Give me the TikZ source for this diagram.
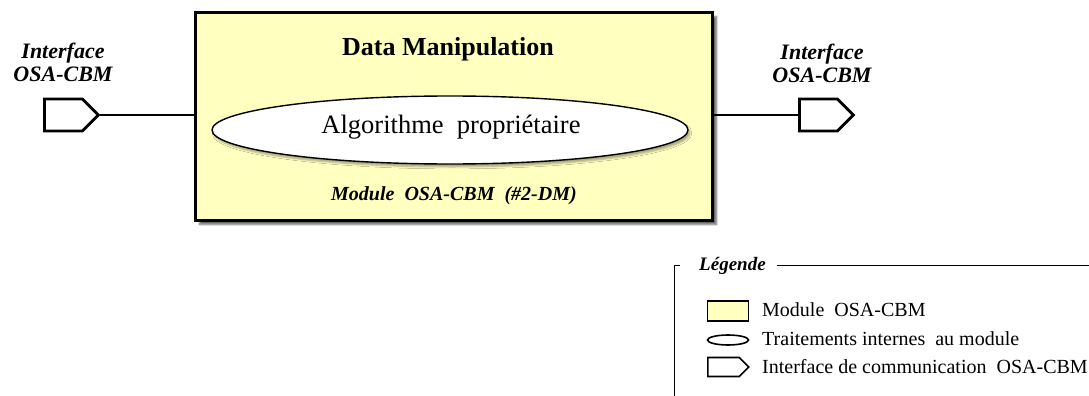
\documentclass[tikz,border=0pt]{standalone}
\usepackage{fontspec}
\setmainfont{Liberation Serif}
\usetikzlibrary{shapes.geometric,shapes.symbols,shadows.blur}
\definecolor{modfill}{RGB}{255,255,192}
\begin{document}
\begin{tikzpicture}[x=1pt,y=-1pt,
  lbl/.style={font=\fontsize{22}{23}\selectfont\bfseries\itshape, align=center, inner sep=0pt},
  iface/.style={signal, signal to=east, signal pointer angle=90, draw, line width=2.8pt, fill=white,
     minimum width=54pt, minimum height=32pt, inner sep=0pt, anchor=west},
  ifacesmall/.style={signal, signal to=east, signal pointer angle=90, draw, line width=1.6pt, fill=white,
     minimum width=41pt, minimum height=19pt, inner sep=0pt, anchor=west},
  module/.style={draw, line width=2.8pt, fill=modfill,
     blur shadow={shadow xshift=4pt, shadow yshift=-4pt, shadow blur steps=8, shadow opacity=60}},
  proc/.style={ellipse, draw, line width=1.4pt, fill=white,
     blur shadow={shadow xshift=2pt, shadow yshift=-3pt, shadow blur steps=5, shadow opacity=35}},
  conn/.style={line width=2.8pt},
  legtxt/.style={font=\fontsize{20}{22}\selectfont, anchor=west, inner sep=0pt}
]
\useasboundingbox (0,0) rectangle (1089,396);

% main module
\node[module, minimum width=517pt, minimum height=208pt, anchor=north west, inner sep=0pt] (box) at (194,11) {};
\node[font=\fontsize{26}{28}\selectfont\bfseries, inner sep=0pt] (title) at (448,49) {Data Manipulation};
\node[proc, minimum width=476pt, minimum height=68pt, inner sep=0pt] (algo) at (450,130) {};
\node[font=\fontsize{26.5}{28}\selectfont, inner sep=0pt] (algotxt) at (451,127) {Algorithme\ \ propriétaire};
\node[font=\fontsize{20}{22}\selectfont\bfseries\itshape, inner sep=0pt] (modname) at (454,196) {Module\ \ OSA-CBM\ \ (\#2-DM)};

% interfaces
\node[iface] (pl) at (43,115) {};
\node[iface] (pr) at (798,115) {};
\node[lbl] (ll) at (63,62) {Interface\\OSA-CBM};
\node[lbl] (lr) at (822,63) {Interface\\OSA-CBM};
\draw[conn] (pl.east) -- (pl.east -| box.west);
\draw[conn] (box.east |- pr.west) -- (pr.west);

% legend
\node[font=\fontsize{19}{21}\selectfont\bfseries\itshape, inner sep=0pt, anchor=west] (leg) at (699,266) {Légende};
\coordinate (fl) at (674,265);
\draw[line width=0.9pt] ([xshift=6pt]fl) -- (fl) -- (674,396);
\draw[line width=0.9pt] ([xshift=11pt]leg.east |- fl) -- (1089,265);

\node[draw, line width=1.6pt, fill=modfill, minimum width=41pt, minimum height=20pt, inner sep=0pt] (lm) at (728,311) {};
\node[ellipse, draw, line width=1.6pt, minimum width=41pt, minimum height=10pt, inner sep=0pt] (le) at (728,340) {};
\node[ifacesmall] (li) at (707,367) {};
\node[legtxt] (tm) at (762,310) {Module\ \ OSA-CBM};
\node[legtxt] (te) at (762,339) {Traitements internes\ \ au module};
\node[legtxt] (ti) at (762,367) {Interface de communication\ \ OSA-CBM};
\end{tikzpicture}
\end{document}
